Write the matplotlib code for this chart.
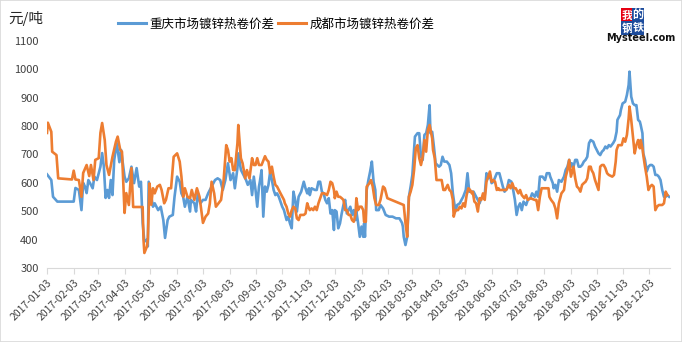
import numpy as np
import pandas as pd
from matplotlib import pyplot as plt
from matplotlib.lines import Line2D
from matplotlib.patches import Rectangle

plt.rcParams['font.family'] = ['Noto Sans CJK SC', 'DejaVu Sans']

start = np.datetime64('2017-01-03')

# 重庆 (days after 2017-01-03, value)
cq_day = [0, 5, 7, 12, 31, 33, 37, 40, 42, 44, 46, 48, 50, 53, 55, 58, 62, 64, 66, 68, 70, 72, 74, 76, 78,
          81, 84, 86, 88, 90, 92, 95, 98, 101, 104, 107, 109, 111, 113, 116, 117, 118, 123, 125, 129, 132,
          135, 137, 140, 142, 146, 148, 151, 154, 156, 158, 160, 163, 166, 167, 171, 173, 175, 178, 181,
          184, 187, 189, 191, 195, 198, 201, 204, 207, 210, 213, 216, 218, 221, 222, 225, 229, 231, 233,
          236, 238, 240, 242, 244, 246, 247, 249, 251, 253, 255, 257, 259, 261, 263, 265, 267, 269, 273,
          275, 276, 278, 280, 282, 284, 286, 288, 290, 292, 295, 298, 300, 302, 304, 305, 307, 311, 313,
          315, 317, 319, 321, 323, 325, 327, 329, 331, 333, 334, 336, 338, 340, 342, 344, 346, 348, 350,
          352, 354, 356, 358, 359, 361, 363, 365, 367, 368, 369, 371, 373, 375, 377, 379, 381, 382, 385,
          387, 390, 393, 397, 401, 405, 409, 412, 413, 414, 416, 418, 420, 422, 424, 426, 427, 430, 432,
          434, 436, 438, 440, 442, 444, 445, 447, 449, 451, 453, 455, 457, 459, 461, 464, 467, 469, 471,
          474, 476, 479, 481, 483, 486, 488, 490, 493, 495, 498, 500, 502, 504, 506, 508, 510, 512, 514,
          516, 518, 522, 525, 527, 529, 531, 534, 536, 539, 541, 543, 545, 547, 549, 551, 553, 556, 558,
          561, 563, 566, 568, 570, 572, 575, 578, 580, 583, 584, 587, 588, 590, 592, 594, 597, 600, 602,
          604, 606, 608, 609, 611, 613, 615, 617, 619, 621, 623, 625, 627, 629, 631, 634, 636, 638, 640,
          642, 644, 646, 648, 650, 652, 654, 657, 659, 661, 662, 665, 666, 668, 671, 673, 675, 676, 678,
          680, 682, 684, 686, 688, 689, 691, 692, 694, 696, 698, 700, 702, 704, 706, 708, 710, 712, 714,
          716, 718, 720, 722]
cq_val = [630, 610, 551, 534, 534, 582, 575, 504, 600, 587, 564, 610, 599, 581, 622, 610, 657, 705, 657, 547,
          575, 547, 610, 557, 681, 740, 673, 716, 668, 622, 604, 616, 657, 599, 652, 587, 604, 459, 393, 400,
          376, 604, 516, 528, 504, 516, 469, 406, 469, 481, 487, 551, 622, 604, 563, 551, 516, 551, 499, 540,
          528, 499, 563, 528, 540, 540, 563, 575, 587, 610, 616, 610, 575, 610, 669, 610, 634, 581, 652, 704,
          646, 622, 610, 593, 610, 557, 622, 575, 516, 587, 604, 645, 481, 587, 569, 593, 640, 610, 575, 557,
          563, 551, 516, 504, 492, 469, 481, 457, 440, 569, 540, 499, 551, 569, 604, 581, 563, 581, 557, 581,
          575, 575, 604, 604, 569, 563, 540, 528, 546, 492, 504, 434, 504, 499, 440, 457, 492, 522, 540, 492,
          504, 516, 487, 504, 469, 500, 459, 410, 446, 410, 457, 410, 575, 610, 640, 675, 604, 575, 504, 504,
          522, 510, 487, 481, 481, 475, 475, 459, 446, 410, 381, 410, 551, 587, 628, 722, 763, 775, 775, 692,
          681, 769, 775, 804, 874, 775, 780, 728, 669, 663, 657, 663, 692, 675, 675, 663, 634, 563, 500, 522,
          528, 540, 551, 575, 634, 569, 569, 569, 551, 540, 528, 546, 551, 557, 634, 616, 628, 599, 604, 634,
          634, 610, 587, 569, 581, 610, 604, 575, 540, 487, 516, 528, 504, 534, 522, 540, 546, 563, 551, 569,
          551, 622, 622, 610, 634, 634, 622, 599, 581, 593, 569, 610, 604, 622, 646, 657, 681, 657, 669, 657,
          681, 681, 657, 657, 663, 675, 681, 692, 740, 751, 745, 728, 716, 704, 698, 710, 716, 728, 722, 733,
          728, 740, 751, 780, 822, 839, 857, 880, 886, 910, 945, 992, 904, 880, 874, 874, 822, 816, 804, 775,
          704, 681, 640, 657, 663, 663, 657, 628, 628, 622, 610, 575, 551, 551, 557, 551]

# 成都
cd_day = [0, 1, 5, 6, 11, 13, 29, 31, 33, 37, 40, 42, 46, 49, 51, 54, 56, 60, 62, 64, 67, 69, 72, 76, 80,
          82, 85, 87, 90, 92, 95, 98, 100, 111, 112, 113, 116, 117, 119, 121, 123, 125, 128, 131, 133, 136,
          138, 141, 144, 147, 151, 154, 156, 158, 160, 163, 166, 168, 171, 174, 177, 179, 181, 184, 187,
          189, 191, 194, 196, 199, 202, 205, 208, 210, 212, 214, 216, 218, 221, 222, 225, 227, 230, 232,
          235, 238, 240, 242, 244, 246, 249, 253, 255, 257, 259, 261, 263, 265, 267, 269, 271, 275, 276,
          278, 280, 282, 284, 286, 288, 290, 292, 294, 298, 300, 302, 304, 305, 307, 309, 311, 313, 315,
          319, 322, 325, 327, 329, 331, 333, 334, 336, 338, 340, 342, 344, 346, 348, 350, 352, 354, 356,
          358, 359, 361, 363, 365, 367, 368, 370, 371, 374, 376, 378, 380, 382, 385, 387, 390, 392, 395,
          414, 416, 418, 420, 422, 424, 426, 428, 430, 432, 434, 436, 438, 440, 442, 444, 447, 448, 450,
          452, 458, 460, 462, 465, 467, 469, 471, 472, 474, 477, 479, 481, 483, 485, 487, 489, 491, 493,
          494, 496, 498, 500, 502, 504, 506, 508, 510, 512, 514, 516, 518, 520, 522, 524, 525, 533, 536,
          538, 540, 542, 544, 547, 549, 551, 554, 556, 558, 561, 566, 568, 570, 572, 574, 582, 583, 585,
          588, 590, 592, 594, 597, 600, 602, 604, 606, 608, 609, 611, 613, 615, 617, 619, 621, 623, 625,
          627, 629, 631, 632, 634, 636, 638, 640, 642, 644, 646, 648, 650, 652, 656, 658, 660, 661, 663,
          667, 669, 671, 673, 675, 676, 678, 680, 682, 684, 686, 688, 689, 691, 692, 694, 696, 698, 700,
          702, 704, 706, 708, 710, 714, 716, 718, 720]
cd_val = [776, 812, 780, 710, 698, 616, 612, 643, 612, 610, 551, 635, 663, 624, 663, 610, 681, 687, 776, 811,
          751, 663, 628, 692, 745, 763, 716, 710, 494, 564, 522, 652, 515, 515, 400, 353, 376, 400, 598, 523,
          581, 563, 587, 593, 575, 528, 540, 581, 581, 692, 704, 675, 622, 551, 581, 551, 546, 575, 540, 581,
          551, 504, 459, 481, 492, 528, 604, 563, 516, 528, 540, 610, 733, 716, 675, 687, 645, 645, 740, 804,
          687, 669, 616, 645, 616, 687, 663, 663, 687, 663, 663, 694, 681, 675, 634, 657, 622, 593, 587, 575,
          563, 540, 528, 516, 492, 481, 504, 516, 510, 475, 469, 487, 487, 492, 528, 510, 504, 510, 504, 516,
          504, 528, 563, 563, 557, 575, 604, 599, 575, 546, 569, 551, 551, 546, 540, 504, 504, 487, 487, 469,
          463, 487, 546, 504, 516, 516, 504, 463, 463, 587, 598, 610, 587, 546, 522, 522, 540, 587, 581, 546,
          522, 459, 410, 551, 569, 593, 645, 722, 733, 687, 663, 692, 751, 710, 786, 804, 757, 716, 687, 610,
          610, 575, 575, 593, 575, 569, 540, 481, 504, 504, 516, 510, 528, 516, 557, 581, 575, 563, 569, 534,
          528, 499, 546, 540, 563, 540, 604, 622, 640, 604, 610, 604, 575, 581, 575, 575, 593, 581, 599, 581,
          581, 563, 575, 557, 546, 557, 540, 546, 540, 540, 504, 551, 581, 581, 551, 540, 528, 510, 475, 528,
          563, 575, 622, 645, 681, 622, 634, 657, 616, 587, 581, 569, 593, 599, 604, 616, 657, 657, 645, 634,
          610, 593, 575, 657, 663, 663, 652, 634, 628, 622, 628, 675, 716, 733, 733, 757, 745, 769, 827, 869,
          822, 763, 704, 733, 751, 722, 751, 722, 698, 657, 622, 575, 587, 593, 587, 504, 516, 522, 522, 528,
          569, 557]

names = ['重庆市场镀锌热卷价差', '成都市场镀锌热卷价差']
colors = ['#5B9BD5', '#ED7D31']

fig = plt.figure(figsize=(6.82, 3.42), dpi=100)
ax = fig.add_axes([47 / 682, 1 - 268 / 342, 623 / 682, 227 / 342])

ax.plot(start + np.array(cq_day), cq_val, color=colors[0], lw=1.9, solid_joinstyle='round')
ax.plot(start + np.array(cd_day), cd_val, color=colors[1], lw=1.9, solid_joinstyle='round')

ax.set_ylim(300, 1100)
ax.set_yticks(range(300, 1101, 100))
ax.set_xlim(start, start + 723)

months = pd.date_range('2017-01-03', '2018-12-03', freq=pd.DateOffset(months=1))
ax.set_xticks(months.values)
ax.set_xticklabels([d.strftime('%Y-%m-%d') for d in months], rotation=45, ha='right',
                   rotation_mode='anchor', fontsize=7.5, color='#404040')

for s in ['top', 'right', 'left']:
    ax.spines[s].set_visible(False)
ax.spines['bottom'].set_color('#d9d9d9')
ax.tick_params(axis='x', length=4, color='#d9d9d9', pad=3)
ax.tick_params(axis='y', length=0, labelsize=8, labelcolor='#404040', pad=6)

fig.text(8 / 682, 1 - 19 / 342, '元/吨', fontsize=10.5, va='center', color='#262626')

handles = [Line2D([], [], color=c, lw=2.2) for c in colors]
fig.legend(handles, names, loc='center', bbox_to_anchor=(0.405, 1 - 24 / 342), ncol=2,
           frameon=False, fontsize=9, handlelength=2.2, handletextpad=0.3, columnspacing=0.3)

# logo
logo = [('我', 627, 15, '#e60012'), ('的', 638, 15, '#1d4c9c'),
        ('钢', 627, 28, '#1d4c9c'), ('铁', 638, 28, '#1d4c9c')]
for ch, px, py, bg in logo:
    fig.text(px / 682, 1 - py / 342, ch, fontsize=8, color='white', ha='center', va='center',
             fontweight='bold',
             bbox=dict(boxstyle='square,pad=0.08', facecolor=bg, edgecolor='none'))
fig.text(641 / 682, 1 - 38 / 342, 'Mysteel.com', fontsize=7, fontweight='bold',
         ha='center', va='center', color='#111111', family='DejaVu Sans')

fig.patches.append(Rectangle((0, 0), 1, 1, transform=fig.transFigure, fill=False,
                             edgecolor='#d9d9d9', lw=1.2))

fig.savefig('out.png', dpi=100)
